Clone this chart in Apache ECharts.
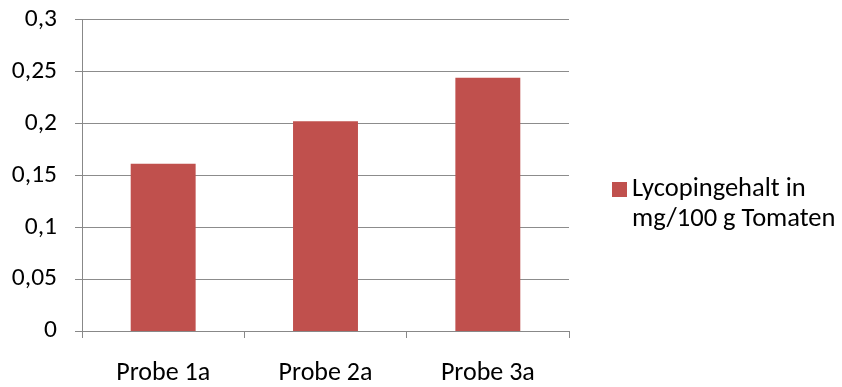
<!DOCTYPE html>
<html>
<head>
<meta charset="utf-8">
<script src="https://cdn.jsdelivr.net/npm/echarts@6/dist/echarts.min.js"></script>
<style>
  html, body { margin: 0; padding: 0; background: #fff; }
  #chart { width: 842px; height: 387px; }
</style>
</head>
<body>
<div id="chart"></div>
<script>
// Lycopene content per sample
const categories = ['Probe 1a', 'Probe 2a', 'Probe 3a'];
const lycopin = [0.161, 0.202, 0.244];
const seriesName = 'Lycopingehalt in\nmg/100 g Tomaten';

const FONT = 'Carlito, Calibri, Lato, sans-serif';

// Legend marker: a square at the top of a taller box, so it lines up with
// the first line of the two-line legend text.
const legendMarker = 'path://M0,0L15,0L15,15L0,15Z M0,45L15,45Z';

const chart = echarts.init(document.getElementById('chart'), null, { renderer: 'canvas' });
chart.setOption({
  animation: false,
  backgroundColor: '#ffffff',
  grid: { left: 82, right: 273, top: 19.5, bottom: 56, containLabel: false },
  legend: {
    left: 612, top: 174.5,
    padding: 0,
    itemWidth: 15, itemHeight: 45, itemGap: 0,
    icon: legendMarker,
    textStyle: { fontFamily: FONT, fontSize: 26.5, color: '#000', lineHeight: 30 },
    data: [seriesName]
  },
  xAxis: {
    type: 'category',
    data: categories,
    axisLine: { show: true, lineStyle: { color: '#888', width: 1 } },
    axisTick: { show: true, alignWithLabel: false, length: 7, lineStyle: { color: '#888' } },
    axisLabel: { fontFamily: FONT, fontSize: 26, color: '#000', margin: 29 }
  },
  yAxis: {
    type: 'value',
    min: 0, max: 0.3, interval: 0.05,
    axisLine: { show: true, lineStyle: { color: '#888', width: 1 } },
    axisTick: { show: true, length: 7, lineStyle: { color: '#888' } },
    splitLine: { show: true, lineStyle: { color: '#8c8c8c', width: 1 } },
    axisLabel: {
      fontFamily: FONT, fontSize: 25.5, color: '#000', margin: 25,
      formatter: v => String(Number(v.toFixed(2))).replace('.', ',')
    }
  },
  series: [{
    name: seriesName,
    type: 'bar',
    data: lycopin,
    barWidth: '40%',
    itemStyle: { color: '#C0504D' }
  }]
});
</script>
</body>
</html>
